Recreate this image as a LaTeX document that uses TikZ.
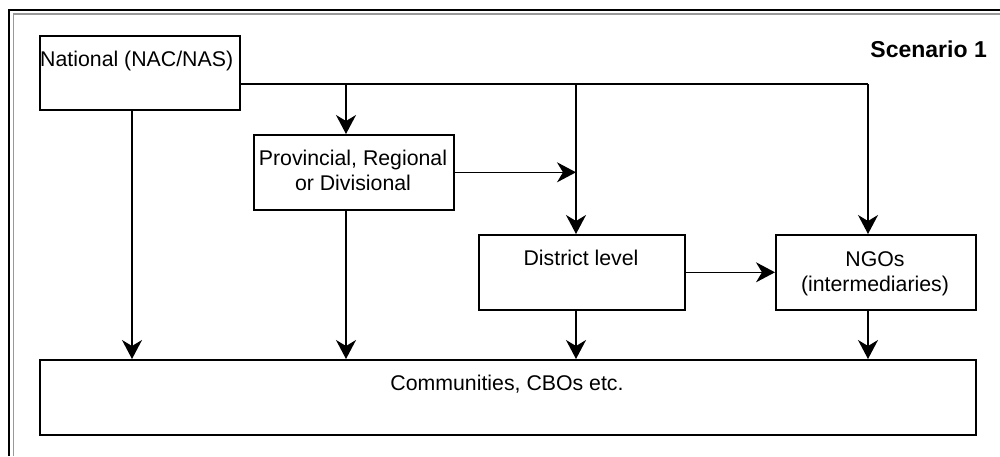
\documentclass[tikz,border=0pt]{standalone}
\usepackage{fontspec}
\setmainfont{Liberation Sans}
\usetikzlibrary{arrows.meta}
\begin{document}
\begin{tikzpicture}[x=1pt,y=-1pt,
  box/.style={draw=black, line width=1.6pt, fill=white, inner sep=0pt, anchor=north west},
  lbl/.style={font=\fontsize{21.3}{25}\selectfont, inner sep=0pt, anchor=base, align=center},
  flow/.style={line width=1.6pt, -{Stealth[length=19pt, width=20pt, inset=6pt]}},
  link/.style={line width=1.6pt}]
\useasboundingbox (0,0) rectangle (1000,456);

% double frame, open towards the right and bottom
\draw[line width=1.6pt, black] (9,456) -- (9,10) -- (1000,10);
\draw[line width=1.6pt, gray!80] (13.5,456) -- (13.5,14) -- (1000,14);

% boxes
\node[box, minimum width=200pt, minimum height=74pt] (nat) at (39,35) {};
\node[box, minimum width=200pt, minimum height=75pt] (prov) at (253,134) {};
\node[box, minimum width=206pt, minimum height=75pt] (dist) at (478,234) {};
\node[box, minimum width=200pt, minimum height=75pt] (ngo) at (775,234) {};
\node[box, minimum width=936pt, minimum height=75pt] (comm) at (39,359) {};

% box texts (a two-line label sits on the baseline of its last line)
\node[lbl, anchor=base west] (natT) at (40,66) {National (NAC/NAS)};
\node[lbl] (provT) at (353,190) {Provincial, Regional\\or Divisional};
\node[lbl] (distT) at (581,265) {District level};
\node[lbl] (ngoT) at (875,291) {NGOs\\(intermediaries)};
\node[lbl] (commT) at (507,390) {Communities, CBOs etc.};
\node[font=\fontsize{23}{27}\selectfont\bfseries, inner sep=0pt, anchor=base east] (title) at (987,57) {Scenario 1};

% columns of the connectors
\coordinate (cA) at (132,0);
\coordinate (cB) at (346,0);
\coordinate (cC) at (576,0);
\coordinate (cD) at (868,0);
\coordinate (bus) at (0,84);

% distribution line from the national level
\draw[link] (nat.east |- bus) -- (cD |- bus);
\draw[flow] (cD |- bus) -- (cD |- ngo.north);
\draw[flow] (cB |- bus) -- (cB |- prov.north);
\draw[flow] (cC |- bus) -- (cC |- dist.north);

% side links
\draw[flow] (prov.east) -- (cC |- prov.east);
\draw[flow] (dist.east) -- (ngo.west);

% links down to the communities
\draw[flow] (cA |- nat.south) -- (cA |- comm.north);
\draw[flow] (cB |- prov.south) -- (cB |- comm.north);
\draw[flow] (cC |- dist.south) -- (cC |- comm.north);
\draw[flow] (cD |- ngo.south) -- (cD |- comm.north);
\end{tikzpicture}
\end{document}
